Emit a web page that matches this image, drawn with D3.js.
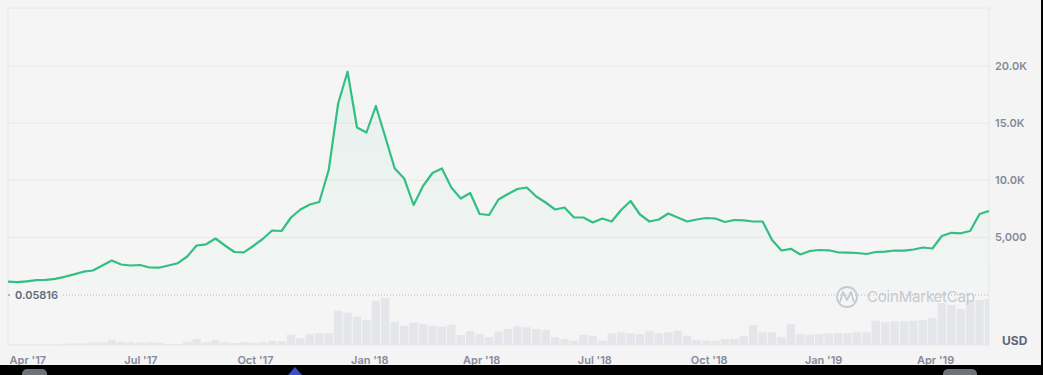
<!DOCTYPE html>
<html>
<head>
<meta charset="utf-8">
<script src="https://cdn.jsdelivr.net/npm/d3@7"></script>
<style>
  html, body { margin: 0; padding: 0; background: #f4f4f4; }
  svg { display: block; font-family: Inter, "Noto Sans", sans-serif; }
</style>
</head>
<body>
<svg id="chart"></svg>
<script>
const size = {w: 1043, h: 375};
const plot = {l: 8, r: 989, t: 8, b: 345};

// weekly-ish closes (USD)
const startDate = new Date(2017, 2, 16);
const endDate = new Date(2019, 4, 14);
const prices = [
  1112, 1068, 1147, 1243, 1278, 1357, 1541, 1751, 1988, 2093,
  2531, 2969, 2618, 2531, 2575, 2356, 2338, 2531, 2732, 3319,
  4282, 4387, 4895, 4282, 3713, 3687, 4238, 4851, 5596, 5552,
  6734, 7435, 7873, 8091, 10894, 16717, 19502, 14616, 14178, 16498,
  13783, 11025, 10150, 7829, 9493, 10631, 11025, 9361, 8398, 8879,
  7041, 6953, 8310, 8792, 9230, 9361, 8573, 8048, 7435, 7610,
  6734, 6734, 6296, 6647, 6384, 7391, 8179, 6997, 6384, 6559,
  7084, 6734, 6384, 6559, 6690, 6647, 6340, 6515, 6489, 6384,
  6384, 4764, 3844, 3993, 3494, 3800, 3888, 3862, 3687, 3660,
  3625, 3538, 3713, 3739, 3844, 3835, 3932, 4107, 4019, 5114,
  5394, 5350, 5552, 7041, 7303
];
// volume (billions), same sampling
const volumes = [
  0.25, 0.25, 0.25, 0.25, 0.3, 0.4, 0.7, 0.8, 0.8, 1.35,
  1.3, 2.65, 1.5, 1.35, 1.3, 1.25, 1.15, 0.5, 0.5, 1.65,
  3.0, 1.35, 2.5, 1.35, 1.0, 1.35, 1.15, 1.35, 2.15, 1.85,
  5.15, 3.35, 5.5, 5.85, 5.85, 17.15, 16.15, 14.15, 12.5, 22.15,
  23.5, 11.65, 9.65, 11.15, 10.5, 9.65, 9.15, 10.15, 5.0, 6.85,
  5.5, 3.85, 6.65, 8.0, 9.25, 8.85, 8.0, 7.5, 3.85, 3.0,
  2.15, 5.15, 4.65, 2.15, 5.85, 6.35, 5.85, 5.5, 7.15, 5.85,
  6.35, 7.15, 4.65, 2.5, 2.15, 2.15, 3.0, 3.0, 4.65, 10.0,
  6.35, 6.35, 3.85, 10.5, 5.5, 5.15, 5.5, 5.85, 5.85, 5.85,
  6.35, 6.35, 12.15, 11.35, 11.85, 11.85, 12.15, 12.5, 13.5, 21.0,
  20.0, 18.0, 22.0, 22.5, 23.0
];
const priceTicks = [5000, 10000, 15000, 20000];
const priceTickLabels = ['5,000', '10.0K', '15.0K', '20.0K'];
const refLabel = '0.05816';

const step = (endDate - startDate) / (prices.length - 1);
const data = prices.map((p, i) => ({
  date: new Date(+startDate + i * step),
  price: p,
  vol: volumes[i]
}));

const svg = d3.select('#chart')
  .attr('width', size.w)
  .attr('height', size.h);

const x = d3.scaleTime().domain([startDate, endDate]).range([plot.l, plot.r]);
const y = d3.scaleLinear().domain([0, 25080]).range([294.4, plot.t]);
const yVol = d3.scaleLinear().domain([0, 24]).range([plot.b, plot.b - 48]);

const defs = svg.append('defs');
const grad = defs.append('linearGradient')
  .attr('id', 'areaGrad')
  .attr('gradientUnits', 'userSpaceOnUse')
  .attr('x1', 0).attr('x2', 0)
  .attr('y1', y(20000)).attr('y2', y(0));
grad.append('stop').attr('offset', '0%').attr('stop-color', '#16c784').attr('stop-opacity', 0.07);
grad.append('stop').attr('offset', '100%').attr('stop-color', '#16c784').attr('stop-opacity', 0.008);
defs.append('clipPath').attr('id', 'plotClip')
  .append('rect')
  .attr('x', plot.l).attr('y', plot.t)
  .attr('width', plot.r - plot.l).attr('height', plot.b - plot.t);

// plot frame
svg.append('rect')
  .attr('x', plot.l).attr('y', plot.t)
  .attr('width', plot.r - plot.l).attr('height', plot.b - plot.t)
  .attr('fill', '#f5f5f5')
  .attr('stroke', '#e7e7e7');

// grid
svg.append('g').classed('grid', true)
  .selectAll('line')
  .data(priceTicks)
  .join('line')
  .attr('x1', plot.l).attr('x2', plot.r)
  .attr('y1', d => y(d)).attr('y2', d => y(d))
  .attr('stroke', '#e8e8e8');

// volume bars
const bw = x(data[1].date) - x(data[0].date);
svg.append('g').classed('volume', true)
  .attr('clip-path', 'url(#plotClip)')
  .selectAll('rect')
  .data(data)
  .join('rect')
  .attr('x', d => x(d.date) - bw / 2 + 0.5)
  .attr('width', bw - 1)
  .attr('y', d => yVol(d.vol))
  .attr('height', d => plot.b - yVol(d.vol))
  .attr('fill', '#e4e6ea');

// reference dotted line
svg.append('line')
  .attr('x1', 63).attr('x2', plot.r)
  .attr('y1', 295).attr('y2', 295)
  .attr('stroke', '#b5b8bd')
  .attr('stroke-dasharray', '1,2');
svg.append('circle').attr('cx', 9).attr('cy', 295).attr('r', 1).attr('fill', '#9aa0aa');
svg.append('text')
  .attr('x', 15).attr('y', 295).attr('dy', '0.35em')
  .attr('font-size', 11).attr('font-weight', 600)
  .attr('fill', '#626b7c')
  .text(refLabel);

// watermark
const wm = svg.append('g').classed('watermark', true).attr('fill', 'none').attr('stroke', '#c6cad0');
wm.append('circle').attr('cx', 847).attr('cy', 297).attr('r', 10).attr('stroke-width', 1.8);
wm.append('path')
  .attr('d', 'M840,302 L843,292 L847,300 L851,292 L854,302')
  .attr('stroke-width', 1.8).attr('stroke-linejoin', 'round');
svg.append('text')
  .attr('x', 867).attr('y', 297).attr('dy', '0.36em')
  .attr('font-size', 15).attr('fill', '#c6cad0')
  .attr('textLength', 108)
  .text('CoinMarketCap');

// area + line
const area = d3.area()
  .x(d => x(d.date))
  .y0(y(0))
  .y1(d => y(d.price));
const line = d3.line()
  .x(d => x(d.date))
  .y(d => y(d.price));

svg.append('path')
  .datum(data)
  .attr('d', area)
  .attr('fill', 'url(#areaGrad)');
svg.append('path')
  .datum(data)
  .attr('d', line)
  .attr('fill', 'none')
  .attr('stroke', '#33bf83')
  .attr('stroke-width', 2.2)
  .attr('stroke-linejoin', 'round');

// y labels
svg.append('g').classed('y-axis', true)
  .selectAll('text')
  .data(priceTicks)
  .join('text')
  .attr('x', 995)
  .attr('y', d => y(d))
  .attr('dy', '0.35em')
  .attr('font-size', 11).attr('font-weight', 600)
  .attr('fill', '#858b99')
  .text((d, i) => priceTickLabels[i]);

svg.append('text')
  .attr('x', 1002).attr('y', 341).attr('dy', '0.35em')
  .attr('font-size', 12).attr('font-weight', 700)
  .attr('fill', '#5e6676')
  .text('USD');

// x labels
const fmt = d3.timeFormat("%b '%y");
svg.append('g').classed('x-axis', true)
  .selectAll('text')
  .data(x.ticks(d3.timeMonth.every(3)))
  .join('text')
  .attr('x', d => x(d))
  .attr('y', 360)
  .attr('dy', '0.35em')
  .attr('text-anchor', 'middle')
  .attr('font-size', 11).attr('font-weight', 600)
  .attr('fill', '#858b99')
  .text(d => fmt(d));

// screen edge bits from the photo
svg.append('rect').attr('x', 0).attr('y', 365).attr('width', size.w).attr('height', 10).attr('fill', '#000');
svg.append('rect').attr('x', 1041).attr('y', 0).attr('width', 2).attr('height', size.h).attr('fill', '#000');
svg.append('rect').attr('x', 22).attr('y', 369).attr('width', 25).attr('height', 10).attr('rx', 5).attr('fill', '#6f7278');
svg.append('rect').attr('x', 943).attr('y', 369).attr('width', 34).attr('height', 10).attr('rx', 5).attr('fill', '#6f7278');
svg.append('path').attr('d', 'M288,375 L295,367 L302,375 Z').attr('fill', '#3d4fc4');
</script>
</body>
</html>
